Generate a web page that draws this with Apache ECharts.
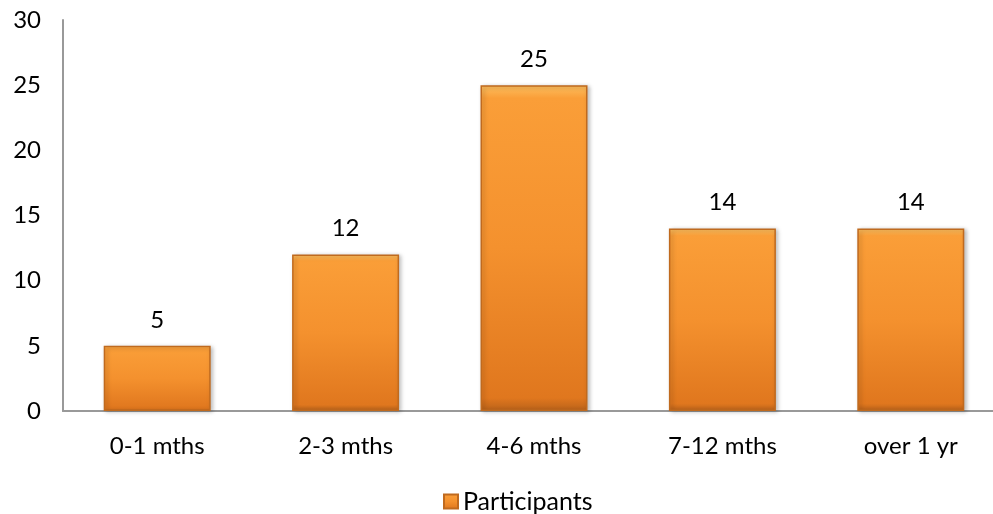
<!DOCTYPE html>
<html><head><meta charset="utf-8">
<script src="https://cdn.jsdelivr.net/npm/echarts@6/dist/echarts.min.js"></script>
<style>html,body{margin:0;padding:0;background:#fff;overflow:hidden}#c{width:1005px;height:514px}</style>
</head><body><div id="c"></div>
<script>
var categories = ['0-1 mths', '2-3 mths', '4-6 mths', '7-12 mths', 'over 1 yr'];
var participants = [5, 12, 25, 14, 14];
var yTicks = [0, 5, 10, 15, 20, 25, 30];

var FONT = 'Lato, "Open Sans", sans-serif';
var barColor = {
  type: 'linear', x: 0, y: 0, x2: 0, y2: 1,
  colorStops: [
    {offset: 0, color: '#FDC060'},
    {offset: 0.04, color: '#FA9E38'},
    {offset: 0.5, color: '#F4912E'},
    {offset: 0.96, color: '#E0771E'},
    {offset: 1, color: '#B9621A'}
  ]
};
var chart = echarts.init(document.getElementById('c'), null, {renderer: 'canvas'});
chart.setOption({
  animation: false,
  grid: {left: 63, right: 0, top: 20, bottom: 103, containLabel: false},
  legend: {
    top: 484, left: 438, itemWidth: 14, itemHeight: 14, itemGap: 5,
    icon: 'rect',
    textStyle: {fontFamily: FONT, fontSize: 25, color: '#000'},
    data: ['Participants']
  },
  xAxis: {
    type: 'category', data: categories,
    axisLine: {lineStyle: {color: '#999', width: 2}},
    axisTick: {show: false},
    axisLabel: {fontFamily: FONT, fontSize: 24, color: '#000', margin: 23}
  },
  yAxis: {
    type: 'value', min: yTicks[0], max: yTicks[yTicks.length - 1], interval: 5,
    axisLine: {show: true, lineStyle: {color: '#999', width: 2}},
    axisTick: {show: false},
    splitLine: {show: false},
    axisLabel: {fontFamily: FONT, fontSize: 24, color: '#000', margin: 22}
  },
  series: [{
    name: 'Participants', type: 'bar', data: participants,
    barWidth: 107,
    itemStyle: {
      color: barColor, borderColor: '#C06A1E', borderWidth: 1.5,
      shadowColor: 'rgba(0,0,0,0.25)', shadowBlur: 4, shadowOffsetX: 2, shadowOffsetY: 1
    },
    label: {show: true, position: 'top', distance: 14, fontFamily: FONT, fontSize: 24, color: '#000'}
  }]
});
</script></body></html>
